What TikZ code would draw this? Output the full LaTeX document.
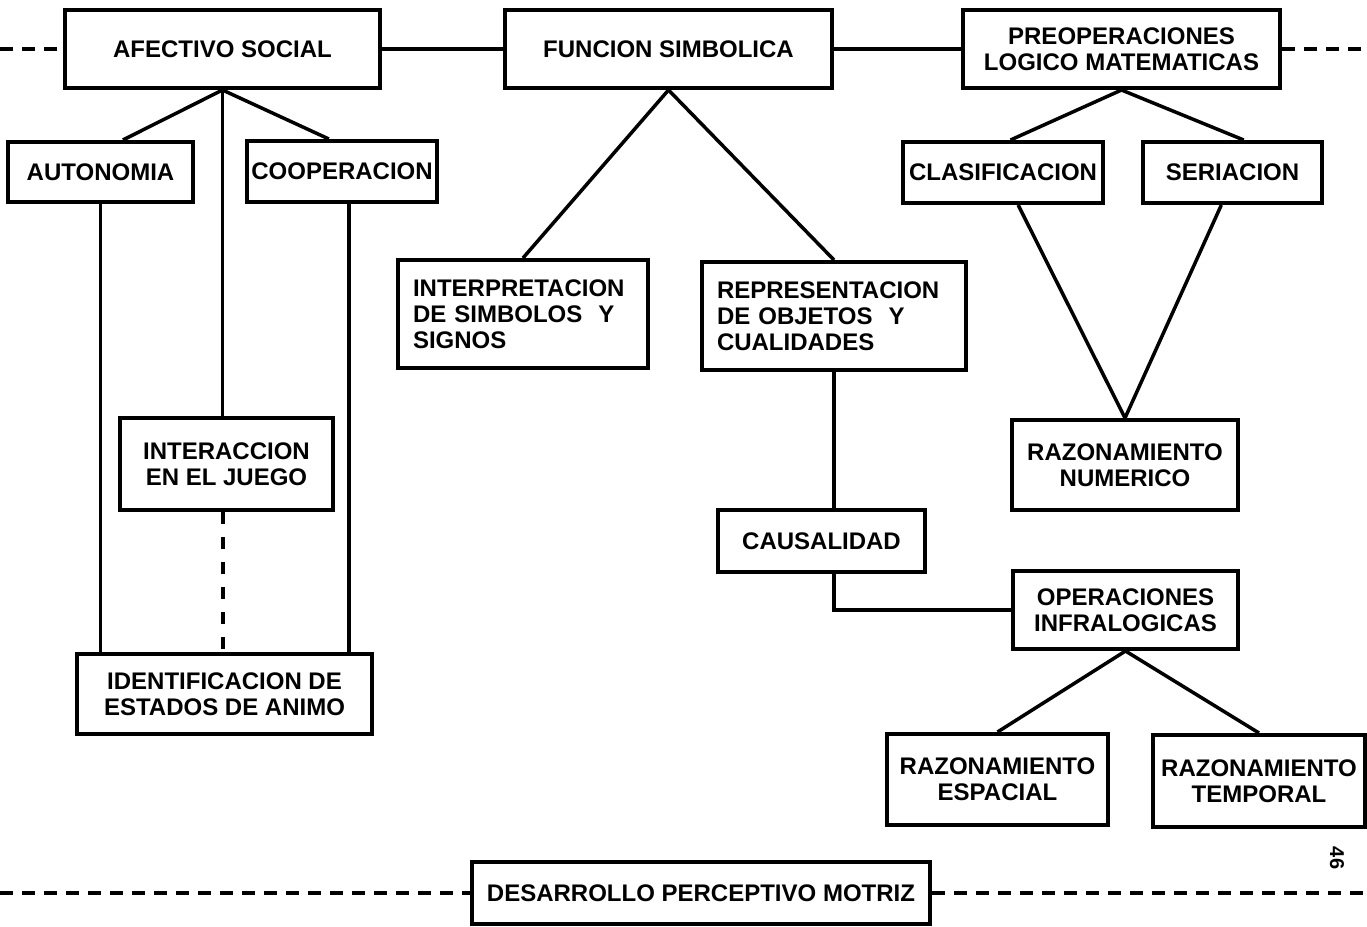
\documentclass[tikz,border=0pt]{standalone}
\usepackage{fontspec}
\setmainfont{Liberation Sans}
\begin{document}
\begin{tikzpicture}[x=1pt,y=-1pt,
  box/.style={draw, line width=4pt, inner sep=0pt, align=center,
    font=\bfseries\fontsize{24}{26}\selectfont},
  boxl/.style={box, align=left, inner xsep=15pt},
  conn/.style={line width=3.5pt},
  dconn/.style={line width=4pt, dash pattern=on 13pt off 9pt},
  dvert/.style={line width=4pt, dash pattern=on 12pt off 13pt},
  pagenum/.style={font=\bfseries\fontsize{20}{20}\selectfont, rotate=-90}
]
\useasboundingbox (0,0) rectangle (1367,926);
\fill[white] (0,0) rectangle (1367,926);

% top row
\node[box, minimum width=315pt, minimum height=78pt] (AS) at (222.5,49) {AFECTIVO SOCIAL};
\node[box, minimum width=327pt, minimum height=78pt] (FS) at (668.5,49) {FUNCION SIMBOLICA};
\node[box, minimum width=317pt, minimum height=78pt] (PLM) at (1121.5,49) {PREOPERACIONES\\LOGICO MATEMATICAS};

% second row
\node[box, minimum width=185pt, minimum height=60pt] (AUT) at (100.5,172) {AUTONOMIA};
\node[box, minimum width=190pt, minimum height=61pt] (COOP) at (342,171.5) {COOPERACION};
\node[box, minimum width=200pt, minimum height=61pt] (CLAS) at (1003,172.5) {CLASIFICACION};
\node[box, minimum width=179pt, minimum height=61pt] (SER) at (1232.5,172.5) {SERIACION};

% middle
\node[boxl, text width=220pt, minimum height=108pt] (INTP) at (523,314) {INTERPRETACION\\DE SIMBOLOS~~Y\\SIGNOS};
\node[boxl, text width=234pt, minimum height=108pt] (REPR) at (834,316) {REPRESENTACION\\DE OBJETOS~~Y\\CUALIDADES};
\node[box, minimum width=213pt, minimum height=92pt] (INTER) at (226.5,464) {INTERACCION\\EN EL JUEGO};
\node[box, minimum width=226pt, minimum height=90pt] (RNUM) at (1125,465) {RAZONAMIENTO\\NUMERICO};
\node[box, minimum width=207pt, minimum height=62pt] (CAUS) at (821.5,541) {CAUSALIDAD};
\node[box, minimum width=225pt, minimum height=78pt] (OPER) at (1125.5,610) {OPERACIONES\\INFRALOGICAS};
\node[box, minimum width=295pt, minimum height=80pt] (IDENT) at (224.5,694) {IDENTIFICACION DE\\ESTADOS DE ANIMO};
\node[box, minimum width=221pt, minimum height=91pt] (ESP) at (997.5,779.5) {RAZONAMIENTO\\ESPACIAL};
\node[box, minimum width=212pt, minimum height=92pt] (TEMP) at (1259,781) {RAZONAMIENTO\\TEMPORAL};

% bottom
\node[box, minimum width=458pt, minimum height=62pt] (DES) at (701,893) {DESARROLLO PERCEPTIVO MOTRIZ};
\node[pagenum] (PG) at (1337,858) {46};

% free ends
\coordinate (TL) at (0,49);
\coordinate (TR) at (1367,49);
\coordinate (BL) at (0,893);
\coordinate (BR) at (1367,893);

% top connectors
\draw[dconn] (TL) -- (AS.west);
\draw[conn] (AS.east) -- (FS.west);
\draw[conn] (FS.east) -- (PLM.west);
\draw[dconn] (PLM.east) -- (TR);

% afectivo social branch
\draw[conn] (AS.south) -- (AUT.55);
\draw[conn] (AS.south) -- (AS.south |- INTER.north);
\draw[conn] (AS.south) -- (COOP.112);
\draw[conn] (AUT.south) -- (AUT.south |- IDENT.north);
\draw[conn] (COOP.282) -- (COOP.282 |- IDENT.north);
\draw[dvert] (AS.south |- INTER.south) -- (AS.south |- IDENT.north);

% funcion simbolica branch
\draw[conn] (FS.south) -- (INTP.north);
\draw[conn] (FS.south) -- (REPR.north);
\draw[conn] (REPR.south) -- (REPR.south |- CAUS.north);
\draw[conn] (REPR.south |- CAUS.south) |- (OPER.west);

% preoperaciones branch
\draw[conn] (PLM.south) -- (CLAS.77);
\draw[conn] (PLM.south) -- (SER.71);
\draw[conn] (CLAS.295) -- (RNUM.north);
\draw[conn] (SER.251) -- (RNUM.north);

% infralogicas branch
\draw[conn] (OPER.south) -- (ESP.north);
\draw[conn] (OPER.south) -- (TEMP.north);

% bottom dashed line
\draw[dconn] (BL) -- (DES.west);
\draw[dconn] (DES.east) -- (BR);
\end{tikzpicture}
\end{document}
